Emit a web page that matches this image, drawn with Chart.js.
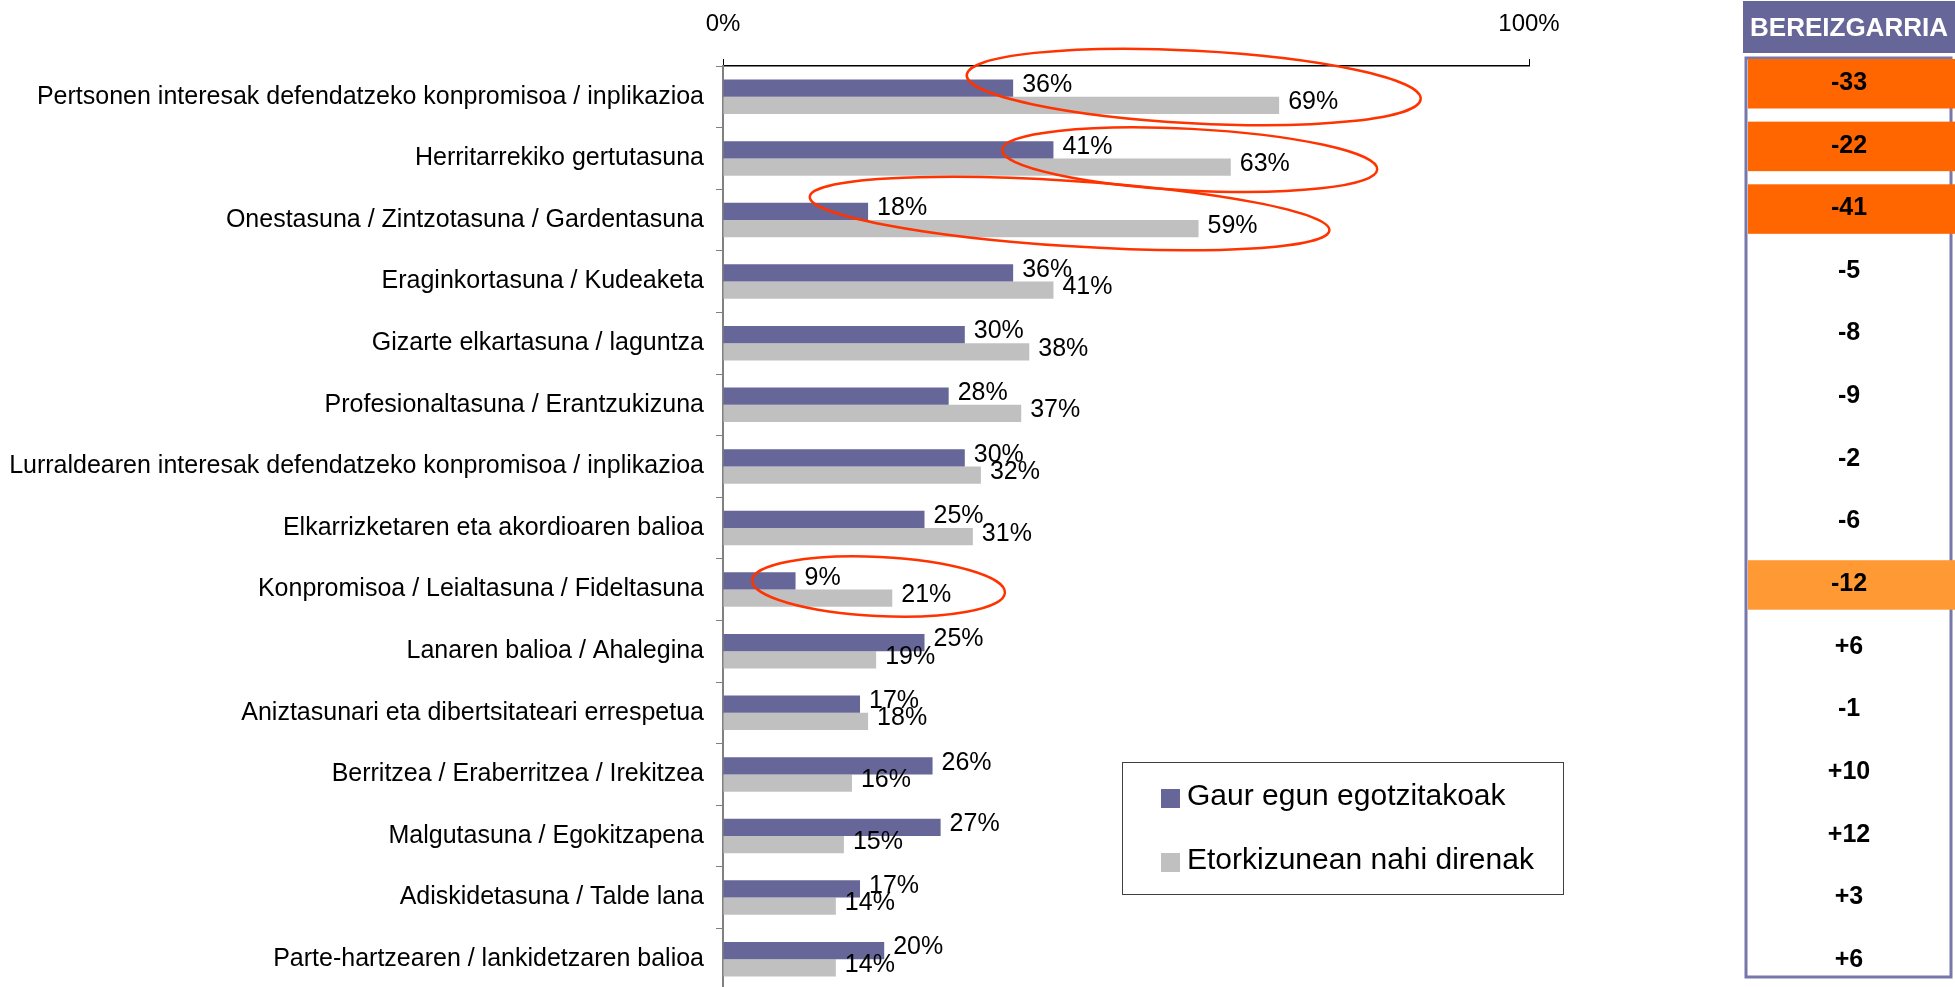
<!DOCTYPE html>
<html>
<head>
<meta charset="utf-8">
<script src="https://cdn.jsdelivr.net/npm/chart.js@4.4.1/dist/chart.umd.min.js"></script>
<style>
  html, body { margin: 0; padding: 0; background: #fff; overflow: hidden; }
  #wrap { width: 1955px; height: 987px; position: relative; overflow: hidden; }
</style>
</head>
<body>
<div id="wrap"><canvas id="myChart" width="1955" height="990"></canvas></div>
<script>
// datuak
const categories = [
    'Pertsonen interesak defendatzeko konpromisoa / inplikazioa',
    'Herritarrekiko gertutasuna',
    'Onestasuna / Zintzotasuna / Gardentasuna',
    'Eraginkortasuna / Kudeaketa',
    'Gizarte elkartasuna / laguntza',
    'Profesionaltasuna / Erantzukizuna',
    'Lurraldearen interesak defendatzeko konpromisoa / inplikazioa',
    'Elkarrizketaren eta akordioaren balioa',
    'Konpromisoa / Leialtasuna / Fideltasuna',
    'Lanaren balioa / Ahalegina',
    'Aniztasunari eta dibertsitateari errespetua',
    'Berritzea / Eraberritzea / Irekitzea',
    'Malgutasuna / Egokitzapena',
    'Adiskidetasuna / Talde lana',
    'Parte-hartzearen / lankidetzaren balioa'
];
const gaurEgun = [36, 41, 18, 36, 30, 28, 30, 25, 9, 25, 17, 26, 27, 17, 20];
const etorkizunean = [69, 63, 59, 41, 38, 37, 32, 31, 21, 19, 18, 16, 15, 14, 14];
const seriesNames = ['Gaur egun egotzitakoak', 'Etorkizunean nahi direnak'];
const xTicks = [0, 100];

// eskuineko zutabea
const panelTitle = 'BEREIZGARRIA';
const bereizgarria = ['-33', '-22', '-41', '-5', '-8', '-9', '-2', '-6', '-12', '+6', '-1', '+10', '+12', '+3', '+6'];
const nabarmendu = [2, 2, 2, 0, 0, 0, 0, 0, 1, 0, 0, 0, 0, 0, 0];

// elipse gorriak: [x %, errenkada, erradio x %, erradio y errenkadatan, angelua]
const elipseak = [
    [58.4, -0.16, 28.2, 0.59, 3.0],
    [57.9, 1.02, 23.3, 0.50, 3.0],
    [43.0, 1.895, 32.3, 0.53, 3.7],
    [19.3, 7.95, 15.7, 0.48, 2.8]
];

const FONT = "'Liberation Sans', Arial, sans-serif";
const colBlue = '#666699';
const colGray = '#C0C0C0';

const labelsPlugin = {
    id: 'barLabels',
    afterDatasetsDraw(chart) {
        const ctx = chart.ctx;
        ctx.save();
        ctx.font = '25px ' + FONT;
        ctx.fillStyle = '#000';
        ctx.textBaseline = 'middle';
        ctx.textAlign = 'left';
        chart.data.datasets.forEach((ds, di) => {
            chart.getDatasetMeta(di).data.forEach((bar, i) => {
                ctx.fillText(ds.data[i] + '%', bar.x + 9, bar.y - 3);
            });
        });
        ctx.restore();
    }
};

const extrasPlugin = {
    id: 'extras',
    afterDraw(chart) {
        const ctx = chart.ctx;
        const xs = chart.scales.x;
        const ys = chart.scales.y;
        const y0 = ys.getPixelForValue(0);
        const rowH = ys.getPixelForValue(1) - y0;
        const pct = xs.getPixelForValue(1) - xs.getPixelForValue(0);

        // elipseak
        ctx.save();
        ctx.strokeStyle = '#FF3300';
        ctx.lineWidth = 2.5;
        elipseak.forEach(e => {
            ctx.beginPath();
            ctx.ellipse(xs.getPixelForValue(e[0]), y0 + e[1] * rowH, e[2] * pct, e[3] * rowH,
                e[4] * Math.PI / 180, 0, Math.PI * 2);
            ctx.stroke();
        });
        ctx.restore();

        // legenda
        ctx.save();
        ctx.fillStyle = '#fff';
        ctx.fillRect(1122, 762, 441, 132);
        ctx.strokeStyle = '#404040';
        ctx.lineWidth = 1;
        ctx.strokeRect(1122.5, 762.5, 441, 132);
        ctx.font = '30px ' + FONT;
        ctx.textBaseline = 'alphabetic';
        chart.data.datasets.forEach((ds, i) => {
            const yy = 789 + i * 64;
            ctx.fillStyle = ds.backgroundColor;
            ctx.fillRect(1161, yy, 19, 19);
            ctx.fillStyle = '#000';
            ctx.fillText(ds.label, 1187, yy + 16);
        });
        ctx.restore();

        // BEREIZGARRIA zutabea
        ctx.save();
        ctx.fillStyle = '#666699';
        ctx.fillRect(1743, 1, 212, 52);
        ctx.fillStyle = '#fff';
        ctx.font = 'bold 26px ' + FONT;
        ctx.textAlign = 'center';
        ctx.textBaseline = 'middle';
        ctx.fillText(panelTitle, 1849, 29);

        ctx.strokeStyle = '#7777AA';
        ctx.lineWidth = 3;
        ctx.strokeRect(1746, 58, 205, 919);

        const pTop = 82, pStep = 62.65;
        const hiCol = ['', '#FF9933', '#FF6600'];
        bereizgarria.forEach((v, i) => {
            const cy = pTop + i * pStep;
            if (nabarmendu[i]) {
                ctx.fillStyle = hiCol[nabarmendu[i]];
                ctx.fillRect(1748, cy - 23, 207, 49.5);
            }
            ctx.fillStyle = '#000';
            ctx.font = 'bold 25px ' + FONT;
            ctx.fillText(v, 1849, cy + 1);
        });
        ctx.restore();
    }
};

const ctx = document.getElementById('myChart').getContext('2d');
const myChart = new Chart(ctx, {
    type: 'bar',
    data: {
        labels: categories,
        datasets: [{
                label: seriesNames[0],
                data: gaurEgun,
                backgroundColor: colBlue,
                borderWidth: 0,
                categoryPercentage: 0.56,
                barPercentage: 1.0
            },
            {
                label: seriesNames[1],
                data: etorkizunean,
                backgroundColor: colGray,
                borderWidth: 0,
                categoryPercentage: 0.56,
                barPercentage: 1.0
            }
        ]
    },
    options: {
        indexAxis: 'y',
        responsive: false,
        animation: false,
        devicePixelRatio: 1,
        layout: { padding: { left: 0, right: 426, top: 0, bottom: 0 } },
        plugins: {
            legend: { display: false },
            tooltip: { enabled: false }
        },
        scales: {
            x: {
                position: 'top',
                min: 0,
                max: 100,
                afterBuildTicks: (scale) => {
                    scale.ticks = xTicks.map(v => ({ value: v }));
                },
                afterFit: (scale) => {
                    scale.height = 66;
                    scale.paddingLeft = 0;
                    scale.paddingRight = 0;
                },
                ticks: {
                    color: '#000',
                    font: { family: FONT, size: 24 },
                    padding: 20,
                    callback: (v) => v + '%'
                },
                grid: { drawOnChartArea: false, tickLength: 7, color: '#000' },
                border: { color: '#000', width: 1.5 }
            },
            y: {
                afterFit: (scale) => {
                    scale.width = 723;
                    scale.paddingTop = 0;
                    scale.paddingBottom = 0;
                },
                ticks: {
                    color: '#000',
                    font: { family: FONT, size: 25 },
                    padding: 12
                },
                grid: { drawOnChartArea: false, tickLength: 7, color: '#808080', offset: true },
                border: { color: '#808080', width: 2 }
            }
        }
    },
    plugins: [labelsPlugin, extrasPlugin]
});
</script>
</body>
</html>
